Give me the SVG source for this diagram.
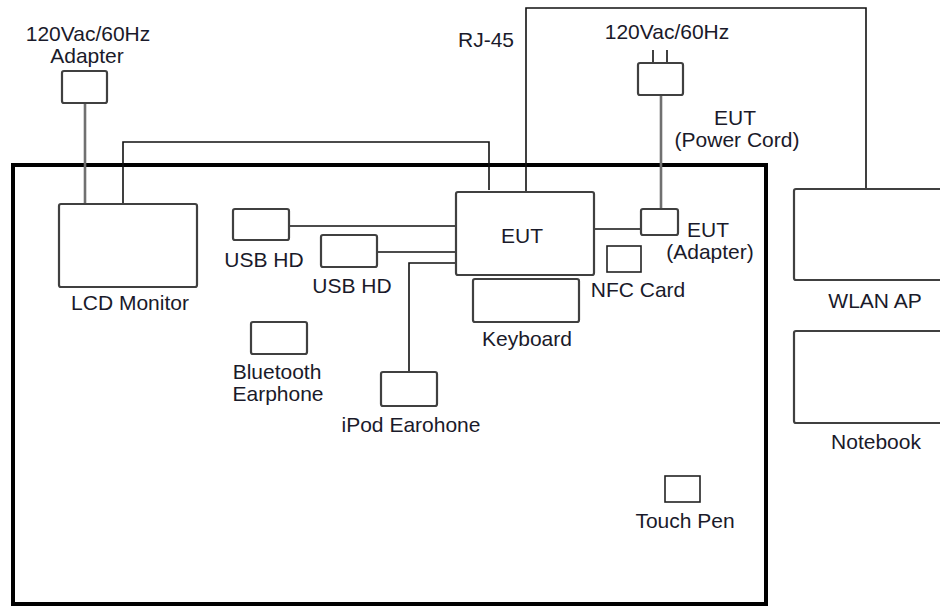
<svg xmlns="http://www.w3.org/2000/svg" width="940" height="608" viewBox="0 0 940 608">
<style>
text{font-family:"Liberation Sans",Arial,sans-serif;font-size:21px;fill:#1a1a2a;text-anchor:middle}
.box{fill:#fff;stroke:#404040;stroke-width:2.2}
.thin{fill:#fff;stroke:#222;stroke-width:1.6}
.blk{fill:none;stroke:#111;stroke-width:1.6}
.gry{fill:none;stroke:#707070;stroke-width:2.6}
</style>
<rect width="940" height="608" fill="#fff"/>
<g id="table"><rect x="13" y="165" width="753" height="439" fill="none" stroke="#000" stroke-width="4"/></g>
<g id="connectors">
<polyline class="gry" points="85,103 85,204"/>
<polyline class="gry" points="661,95 661,209"/>
<polyline class="blk" points="653,50 653,63"/>
<polyline class="blk" points="667,50 667,63"/>
<polyline class="blk" points="123,204 123,142 489,142 489,190"/>
<polyline class="blk" points="526,192 526,8 866,8 866,189"/>
<polyline class="blk" points="289,226 456,226"/>
<polyline class="blk" points="377,252 456,252"/>
<polyline class="blk" points="456,263 409,263 409,372"/>
<polyline class="blk" points="594,229 641,229"/>
</g>
<g id="lcd-adapter"><rect class="box" x="62" y="71" width="45" height="32" rx="2"/><text x="88" y="41">120Vac/60Hz</text><text x="87" y="63">Adapter</text></g>
<g id="lcd-monitor"><rect class="box" x="59" y="204" width="138" height="83" rx="2"/><text x="130" y="310">LCD Monitor</text></g>
<g id="usb-hd-1"><rect class="box" x="233" y="209" width="56" height="31" rx="2"/><text x="264" y="267">USB HD</text></g>
<g id="usb-hd-2"><rect class="box" x="321" y="235" width="56" height="32" rx="2"/><text x="352" y="293">USB HD</text></g>
<g id="rj45-label"><text x="486" y="47">RJ-45</text></g>
<g id="eut"><rect class="box" x="456" y="192" width="138" height="83" rx="2"/><text x="522" y="243">EUT</text></g>
<g id="eut-plug"><rect class="box" x="638" y="63" width="45" height="32" rx="2"/><text x="667" y="39">120Vac/60Hz</text><text x="735" y="125">EUT</text><text x="737" y="147">(Power Cord)</text></g>
<g id="eut-adapter"><rect class="box" x="641" y="209" width="37" height="26" rx="2"/><text x="708" y="237">EUT</text><text x="710" y="259">(Adapter)</text></g>
<g id="nfc-card"><rect class="thin" x="607" y="246" width="34" height="26"/><text x="638" y="297">NFC Card</text></g>
<g id="keyboard"><rect class="box" x="473" y="279" width="106" height="43" rx="2"/><text x="527" y="346">Keyboard</text></g>
<g id="bluetooth"><rect class="box" x="251" y="322" width="56" height="32" rx="2"/><text x="277" y="379">Bluetooth</text><text x="278" y="401">Earphone</text></g>
<g id="ipod"><rect class="box" x="381" y="372" width="56" height="34" rx="2"/><text x="411" y="432">iPod Earohone</text></g>
<g id="touch-pen"><rect class="thin" x="665" y="476" width="35" height="26"/><text x="685" y="528">Touch Pen</text></g>
<g id="wlan-ap"><rect class="box" x="794" y="189" width="160" height="91" rx="2"/><text x="875" y="308">WLAN AP</text></g>
<g id="notebook"><rect class="box" x="794" y="331" width="160" height="92" rx="2"/><text x="876" y="449">Notebook</text></g>
</svg>
